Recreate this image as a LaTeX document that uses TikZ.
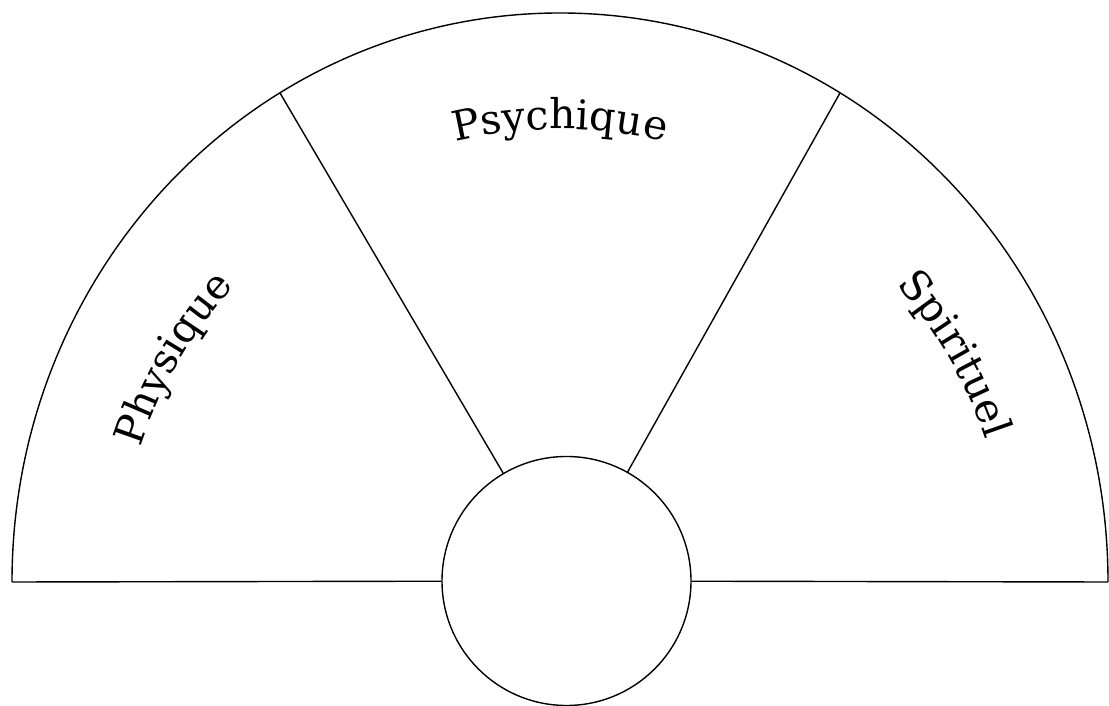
\documentclass[tikz,border=0pt]{standalone}
\usepackage{fontspec}
\setmainfont{DejaVu Serif}
\usetikzlibrary{decorations.text}
\newcommand{\sectorfont}{\fontsize{41}{41}\selectfont}

\begin{document}
\begin{tikzpicture}[x=1pt,y=1pt,line width=1.4pt,
    sectorlabel/.style={decorate,decoration={text along path,text align=center,text={|\sectorfont|#1}}}]
  \useasboundingbox (0,0) rectangle (1109,706);
  % outer rim and hub
  \coordinate (o) at (560,124);
  \coordinate (rimL) at (12,124);
  \coordinate (rimR) at (1108,124);
  \coordinate (cutL) at (280,613);
  \coordinate (cutR) at (840,613);
  \node[draw,circle,minimum size=249pt,inner sep=0pt] (hub) at (566.5,125) {};
  \draw (rimL) arc[start angle=180,end angle=0,x radius=548,y radius=569];
  \draw (rimL) -- (hub);
  \draw (hub) -- (rimR);
  \draw (cutL) -- (hub);
  \draw (cutR) -- (hub);
  % labels along the arc
  \path[sectorlabel=Physique] (o) ++(180:440) arc[start angle=180,end angle=120,radius=440];
  \path[sectorlabel=Psychique] (o) ++(120:453) arc[start angle=120,end angle=60,radius=453];
  \path[sectorlabel=Spirituel] (o) ++(60:449) arc[start angle=60,end angle=0,radius=449];
\end{tikzpicture}
\end{document}
